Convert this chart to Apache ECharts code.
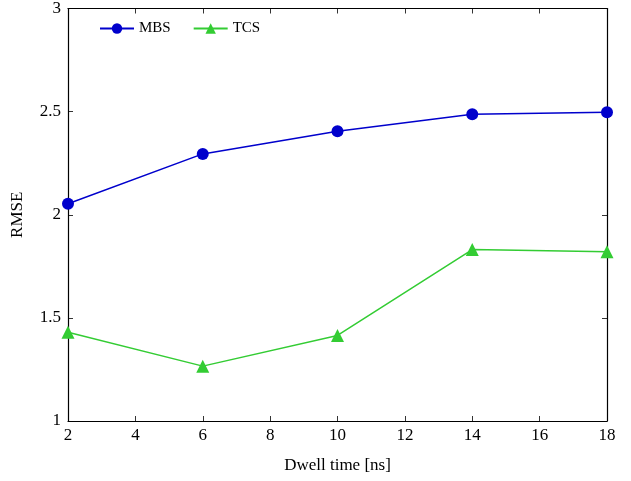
<!DOCTYPE html>
<html><head><meta charset="utf-8">
<script src="https://cdn.jsdelivr.net/npm/echarts@6/dist/echarts.min.js"></script>
<style>html,body{margin:0;padding:0;background:#fff}#c{width:631px;height:481px}</style>
</head><body><div id="c"></div>
<script>
const xValues = [2, 6, 10, 14, 18];
const mbs = [2.053, 2.295, 2.405, 2.487, 2.497];
const tcs = [1.43, 1.266, 1.415, 1.831, 1.821];
const xTicks = [2, 4, 6, 8, 10, 12, 14, 16, 18];
const yTicks = [1, 1.5, 2, 2.5, 3];

const FONT = 'Liberation Serif';
const chart = echarts.init(document.getElementById('c'));
const axisLine = {show: true, onZero: false, lineStyle: {color: '#000', width: 1.2}};
const tick = {show: true, inside: true, length: 5, lineStyle: {color: '#000', width: 0.8}};
chart.setOption({
  animation: false,
  grid: {left: 68, right: 24, top: 7, bottom: 60},
  textStyle: {fontFamily: FONT},
  legend: {
    left: 94, top: 16, itemWidth: 34, itemHeight: 13, itemGap: 22,
    textStyle: {fontFamily: FONT, fontSize: 15, color: '#000'},
    data: ['MBS', 'TCS']
  },
  xAxis: [{
    type: 'value', min: 2, max: 18, interval: 2,
    name: 'Dwell time [ns]', nameLocation: 'middle', nameGap: 36,
    nameTextStyle: {fontFamily: FONT, fontSize: 17, color: '#000'},
    axisLine, axisTick: tick, splitLine: {show: false},
    axisLabel: {fontFamily: FONT, fontSize: 17, color: '#000', margin: 6}
  }, {
    type: 'value', min: 2, max: 18, interval: 2, position: 'top',
    axisLine, axisTick: tick, splitLine: {show: false}, axisLabel: {show: false}
  }],
  yAxis: [{
    type: 'value', min: 1, max: 3, interval: 0.5,
    name: 'RMSE', nameLocation: 'middle', nameGap: 42,
    nameTextStyle: {fontFamily: FONT, fontSize: 17, color: '#000'},
    axisLine, axisTick: tick, splitLine: {show: false},
    axisLabel: {fontFamily: FONT, fontSize: 17, color: '#000', margin: 7,
      formatter: v => String(v)}
  }, {
    type: 'value', min: 1, max: 3, interval: 0.5, position: 'right',
    axisLine, axisTick: tick, splitLine: {show: false}, axisLabel: {show: false}
  }],
  series: [{
    name: 'MBS', type: 'line', data: xValues.map((x, i) => [x, mbs[i]]),
    symbol: 'circle', symbolSize: 12,
    itemStyle: {color: '#0000cc'}, lineStyle: {color: '#0000cc', width: 1.5}
  }, {
    name: 'TCS', type: 'line', data: xValues.map((x, i) => [x, tcs[i]]),
    symbol: 'triangle', symbolSize: 13,
    itemStyle: {color: '#33cc33'}, lineStyle: {color: '#33cc33', width: 1.5}
  }]
});
</script></body></html>
